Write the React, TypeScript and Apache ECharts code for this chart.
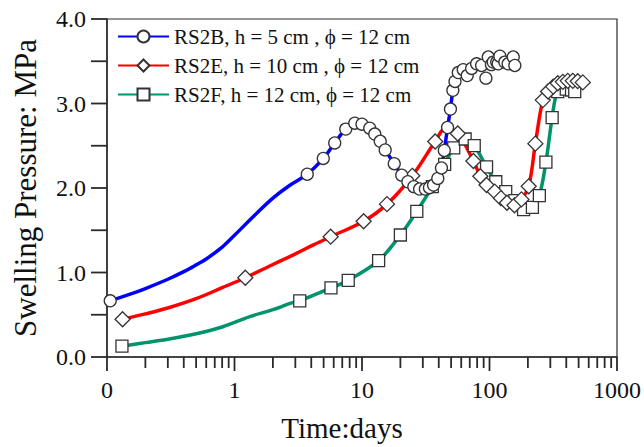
import React, { useEffect, useRef } from "react";
import * as echarts from "echarts";

// ---- Data (time in days, swelling pressure in MPa) ----
const blueName = "RS2B, h = 5 cm , ϕ = 12 cm";
const redName = "RS2E, h = 10 cm , ϕ = 12 cm";
const greenName = "RS2F, h = 12 cm, ϕ = 12 cm";

const blueCurveT = [0.106, 0.15, 0.2, 0.3, 0.4, 0.5, 0.6, 0.8, 1.0, 1.4, 2.0, 2.7, 3.72, 4.97, 6.11, 7.46, 8.78, 10, 11.5, 12.6, 13.9, 15.2, 17.9, 20.5, 22.9, 25.5, 28.3, 31.4, 33.8, 36.4, 39.3, 42, 44.2, 46.9, 49.4, 51.6, 53.6, 56.9, 62.1];
const blueCurveV = [0.665, 0.74, 0.81, 0.92, 1.01, 1.09, 1.16, 1.3, 1.44, 1.66, 1.88, 2.03, 2.163, 2.35, 2.533, 2.697, 2.767, 2.755, 2.708, 2.638, 2.553, 2.451, 2.288, 2.152, 2.074, 2.016, 1.988, 1.988, 2.004, 2.035, 2.113, 2.237, 2.444, 2.716, 2.934, 3.156, 3.261, 3.366, 3.41];
const blueMarkT = [0.106, 3.72, 4.97, 6.11, 7.46, 8.78, 10, 11.5, 12.6, 13.9, 15.2, 17.9, 20.5, 22.9, 25.5, 28.3, 31.4, 33.8, 36.4, 39.3, 42, 44.2, 46.9, 49.4, 51.6, 53.6, 56.9, 62.2, 66.9, 72.4, 79.2, 86.7, 93.7, 97.8, 103.5, 107, 114, 117, 120.6, 132, 140, 153.5, 158];
const blueMarkV = [0.665, 2.163, 2.35, 2.533, 2.697, 2.767, 2.755, 2.708, 2.638, 2.553, 2.451, 2.288, 2.152, 2.074, 2.016, 1.988, 1.988, 2.004, 2.035, 2.113, 2.237, 2.444, 2.716, 2.934, 3.156, 3.261, 3.366, 3.4, 3.33, 3.415, 3.47, 3.45, 3.3, 3.55, 3.46, 3.49, 3.49, 3.47, 3.56, 3.49, 3.47, 3.55, 3.45];

const redCurveT = [0.1325, 0.2, 0.3, 0.5, 0.8, 1.215, 2.0, 3.0, 4.2, 5.68, 10.3, 15.7, 24.8, 37.5, 45, 56.4, 74.8, 84.7, 94.8, 110, 123, 137, 157, 178, 203, 229, 262, 288, 316, 343, 376];
const redCurveV = [0.447, 0.51, 0.58, 0.69, 0.82, 0.938, 1.095, 1.22, 1.33, 1.424, 1.607, 1.809, 2.144, 2.55, 2.7, 2.645, 2.32, 2.14, 2.035, 1.957, 1.88, 1.825, 1.795, 1.865, 2.02, 2.525, 3.04, 3.142, 3.2, 3.24, 3.256];
const redMarkT = [0.1325, 1.215, 5.68, 10.3, 15.7, 24.8, 37.5, 56.4, 74.8, 84.7, 94.8, 110, 123, 137, 157, 178, 203, 229, 262, 288, 316, 343, 376, 411, 450, 492, 539];
const redMarkV = [0.447, 0.938, 1.424, 1.607, 1.809, 2.144, 2.55, 2.645, 2.32, 2.14, 2.035, 1.957, 1.88, 1.825, 1.795, 1.865, 2.02, 2.525, 3.04, 3.142, 3.2, 3.24, 3.256, 3.268, 3.268, 3.264, 3.25];

const greenCurveT = [0.131, 0.2, 0.3, 0.5, 0.8, 1.32, 2.0, 2.73, 3.25, 5.71, 7.8, 13.5, 20, 26.9, 35.6, 44.5, 52.4, 64.4, 75.9, 94.8, 112, 134, 158, 185, 217, 246, 277, 310, 339, 380];
const greenCurveV = [0.128, 0.17, 0.21, 0.275, 0.355, 0.478, 0.56, 0.634, 0.665, 0.817, 0.907, 1.14, 1.444, 1.724, 2.016, 2.28, 2.475, 2.58, 2.502, 2.249, 2.074, 1.957, 1.85, 1.743, 1.77, 1.91, 2.307, 2.833, 3.132, 3.17];
const greenMarkT = [0.131, 3.25, 5.71, 7.8, 13.5, 20, 26.9, 35.6, 44.5, 52.4, 64.4, 75.9, 94.8, 112, 134, 158, 185, 217, 246, 277, 310, 343, 400, 440, 466];
const greenMarkV = [0.128, 0.665, 0.817, 0.907, 1.14, 1.444, 1.724, 2.016, 2.28, 2.475, 2.58, 2.502, 2.249, 2.074, 1.957, 1.85, 1.743, 1.77, 1.91, 2.307, 2.833, 3.14, 3.17, 3.16, 3.14];

// Axis tick positions
const xMajorTicks = [0.1, 1, 10, 100, 1000];
const xMinorTicks = [0.2, 0.3, 0.4, 0.5, 0.6, 0.7, 0.8, 0.9, 2, 3, 4, 5, 6, 7, 8, 9, 20, 30, 40, 50, 60, 70, 80, 90, 200, 300, 400, 500, 600, 700, 800, 900];
const yTicks = [0, 0.5, 1, 1.5, 2, 2.5, 3, 3.5, 4];

const FONT = "'Liberation Serif', 'Times New Roman', serif";
const AXIS_COLOR = "#2a2a2a";
const MARK_BORDER = "#333";

const zip = (t: number[], v: number[]) => t.map((x, i) => [x, v[i]]);

export default function App() {
  const ref = useRef<HTMLDivElement>(null);
  useEffect(() => {
    document.body.style.margin = "0";
    const chart = echarts.init(ref.current!, null, { renderer: "svg" });

    const lineSeries = (name: string, color: string, symbol: string, t: number[], v: number[]) => ({
      type: "line",
      name,
      data: zip(t, v),
      smooth: 0.35,
      symbol,
      showSymbol: false,
      lineStyle: { color, width: 3.5 },
      itemStyle: { color: "#fff", borderColor: MARK_BORDER, borderWidth: 1.3 },
      z: 2,
    });
    const markSeries = (name: string, symbol: string, size: number, t: number[], v: number[]) => ({
      type: "scatter",
      name,
      data: zip(t, v),
      symbol,
      symbolSize: size,
      itemStyle: { color: "#fff", borderColor: MARK_BORDER, borderWidth: 1.3, opacity: 1 },
      z: 3,
    });
    const tickSeries = (values: number[], horizontal: boolean, len: number) => ({
      type: "custom",
      clip: false,
      z: 4,
      data: values.map((v) => (horizontal ? [0.1, v] : [v, 0])),
      renderItem: (params: any, api: any) => {
        const p = api.coord([api.value(0), api.value(1)]);
        const shape = horizontal
          ? { x1: p[0] - len, y1: p[1], x2: p[0], y2: p[1] }
          : { x1: p[0], y1: p[1], x2: p[0], y2: p[1] + len };
        return { type: "line", shape, style: { stroke: AXIS_COLOR, lineWidth: 1.8 } };
      },
    });

    chart.setOption({
      animation: false,
      textStyle: { fontFamily: FONT },
      grid: { left: 107, right: 27, top: 19, bottom: 86, show: true, borderColor: AXIS_COLOR, borderWidth: 1.2 },
      legend: {
        data: [blueName, redName, greenName],
        orient: "vertical",
        left: 112,
        top: 21,
        itemWidth: 51,
        itemHeight: 15,
        itemGap: 8,
        textStyle: { fontFamily: FONT, fontSize: 21, color: "#111" },
      },
      xAxis: {
        type: "log",
        logBase: 10,
        min: 0.1,
        max: 1000,
        name: "Time:days",
        nameLocation: "middle",
        nameGap: 56,
        nameTextStyle: { fontFamily: FONT, fontSize: 29, color: "#111", padding: [0, 40, 0, 0] },
        axisLine: { lineStyle: { color: AXIS_COLOR, width: 1.5 } },
        axisTick: { show: false },
        axisLabel: {
          fontFamily: FONT,
          fontSize: 24,
          color: "#111",
          margin: 21,
          formatter: (v: number) => (v < 0.5 ? "0" : String(Math.round(v))),
        },
        splitLine: { show: false },
      },
      yAxis: {
        type: "value",
        min: 0,
        max: 4,
        interval: 1,
        name: "Swelling Pressure: MPa",
        nameLocation: "middle",
        nameGap: 66,
        nameTextStyle: { fontFamily: FONT, fontSize: 31, color: "#111" },
        axisLine: { show: true, lineStyle: { color: AXIS_COLOR, width: 1.5 } },
        axisTick: { show: false },
        minorTick: { show: false },
        axisLabel: {
          fontFamily: FONT,
          fontSize: 24,
          color: "#111",
          margin: 21,
          formatter: (v: number) => v.toFixed(1),
        },
        splitLine: { show: false },
      },
      series: [
        lineSeries(blueName, "#0000ff", "circle", blueCurveT, blueCurveV),
        lineSeries(redName, "#ff0000", "diamond", redCurveT, redCurveV),
        lineSeries(greenName, "#00946c", "rect", greenCurveT, greenCurveV),
        markSeries("RS2F data", "rect", 12, greenMarkT, greenMarkV),
        markSeries("RS2E data", "diamond", 15, redMarkT, redMarkV),
        markSeries("RS2B data", "circle", 12, blueMarkT, blueMarkV),
        tickSeries(xMajorTicks, false, 14),
        tickSeries(xMinorTicks, false, 11),
        tickSeries(yTicks, true, 16),
      ],
    });
    return () => chart.dispose();
  }, []);
  return <div ref={ref} style={{ position: "absolute", left: 0, top: 0, width: 644, height: 447 }} />;
}
